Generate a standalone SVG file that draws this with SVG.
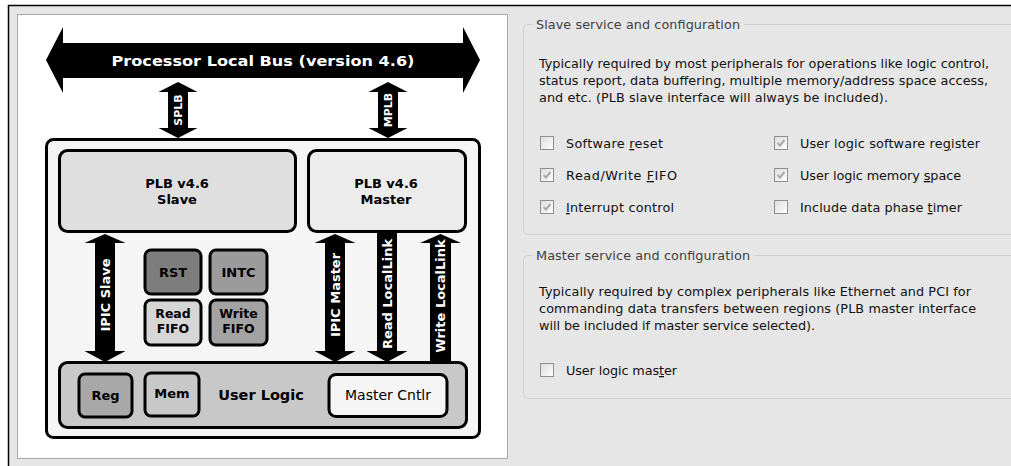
<svg xmlns="http://www.w3.org/2000/svg" width="1011" height="466" viewBox="0 0 1011 466">
<style>
.dt{font-family:"DejaVu Sans",Verdana,sans-serif;fill:#000;text-anchor:middle}
.b{font-weight:bold}
.wt{font-family:"DejaVu Sans",Verdana,sans-serif;font-weight:bold;fill:#fff;text-anchor:middle;dominant-baseline:central}
.bx{stroke:#000;stroke-width:3}
.ui{font-family:"DejaVu Sans",Tahoma,sans-serif;font-size:12.8px;fill:#111}
.ttl{font-family:"DejaVu Sans",Tahoma,sans-serif;font-size:12.8px;fill:#404040}
.grp{fill:none;stroke:#cfcfcf;stroke-width:1}
.cb{fill:url(#cbg);stroke:#8f8f8f;stroke-width:1}
.ck{fill:none;stroke:#a8a8a8;stroke-width:2}
.u{text-decoration:underline}
</style>
<defs>
<linearGradient id="cbg" x1="0" y1="0" x2="1" y2="1">
<stop offset="0" stop-color="#dcdcdc"/>
<stop offset="1" stop-color="#ffffff"/>
</linearGradient>
</defs>
<rect x="0" y="0" width="1011" height="466" fill="#fff"/>
<rect x="8" y="5" width="1010" height="470" fill="#e6e6e6"/>
<path d="M8.5,466 V5.5 H1011" fill="none" stroke="#000" stroke-width="1.5"/>
<rect id="panel" x="17.5" y="14.5" width="490" height="444" fill="#fff" stroke="#a8a8a8" stroke-width="1"/>

<g id="bus">
<path d="M46,60 L63,27 L63,43 L463,43 L463,27 L480,60 L463,93 L463,78 L63,78 L63,93 Z" fill="#000"/>
<text class="dt b" x="263" y="66" font-size="14.5" fill="#fff" style="fill:#fff" textLength="303" lengthAdjust="spacingAndGlyphs">Processor Local Bus (version 4.6)</text>
</g>

<g id="container">
<rect class="bx" x="46.5" y="139.5" width="433" height="298" rx="7" fill="#f5f5f5"/>
</g>

<g id="slave">
<rect class="bx" x="59.5" y="150.5" width="236" height="81" rx="8" fill="#dfdfdf"/>
<text class="dt b" x="177" y="188" font-size="13">PLB v4.6</text>
<text class="dt b" x="177" y="204" font-size="13">Slave</text>
</g>
<g id="master">
<rect class="bx" x="308.5" y="150.5" width="157" height="81" rx="8" fill="#ececec"/>
<text class="dt b" x="386" y="188" font-size="13">PLB v4.6</text>
<text class="dt b" x="386" y="204" font-size="13">Master</text>
</g>

<g id="rst">
<rect class="bx" x="145" y="250" width="56" height="44" rx="6" fill="#7d7d7d"/>
<text class="dt b" x="173" y="277" font-size="13">RST</text>
</g>
<g id="intc">
<rect class="bx" x="210" y="250" width="57" height="44" rx="6" fill="#9b9b9b"/>
<text class="dt b" x="238.5" y="277" font-size="13">INTC</text>
</g>
<g id="readfifo">
<rect class="bx" x="145" y="300" width="56" height="45" rx="6" fill="#d6d6d6"/>
<text class="dt b" x="173" y="318" font-size="12.5">Read</text>
<text class="dt b" x="173" y="333" font-size="12.5">FIFO</text>
</g>
<g id="writefifo">
<rect class="bx" x="210" y="300" width="57" height="45" rx="6" fill="#a3a3a3"/>
<text class="dt b" x="238.5" y="318" font-size="12.5">Write</text>
<text class="dt b" x="238.5" y="333" font-size="12.5">FIFO</text>
</g>

<g id="userlogic">
<rect class="bx" x="59.5" y="362.5" width="407" height="65" rx="8" fill="#c8c8c8"/>
<text class="dt b" x="261" y="400" font-size="14.5">User Logic</text>
</g>
<g id="reg">
<rect class="bx" x="79" y="374" width="53" height="43" rx="6" fill="#a8a8a8"/>
<text class="dt b" x="105.5" y="400" font-size="13">Reg</text>
</g>
<g id="mem">
<rect class="bx" x="145" y="373" width="54" height="43" rx="6" fill="#c8c8c8"/>
<text class="dt b" x="172" y="398" font-size="13">Mem</text>
</g>
<g id="mastercntlr">
<rect class="bx" x="329" y="374.5" width="118" height="42" rx="7" fill="#f5f5f5"/>
<text class="dt" x="388" y="400" font-size="14">Master Cntlr</text>
</g>

<g id="connectors" fill="#000">
<g id="splb">
<path d="M178,82 L197.5,92 L188,92 L188,128 L197.5,128 L178,138 L158.5,128 L168,128 L168,92 L158.5,92 Z"/>
<text class="wt" font-size="11" transform="translate(178,110) rotate(-90)">SPLB</text>
</g>
<g id="mplb">
<path d="M388,82 L407.5,92 L398,92 L398,128 L407.5,128 L388,138 L368.5,128 L378,128 L378,92 L368.5,92 Z"/>
<text class="wt" font-size="11" transform="translate(388,110) rotate(-90)">MPLB</text>
</g>
<g id="ipicslave">
<path d="M105,234 L125.5,243 L115,243 L115,351 L125.5,351 L105,362 L84.5,351 L95,351 L95,243 L84.5,243 Z"/>
<text class="wt" font-size="13" transform="translate(105,295) rotate(-90)">IPIC Slave</text>
</g>
<g id="ipicmaster">
<path d="M335,234 L355.5,243 L345,243 L345,351 L355.5,351 L335,362 L314.5,351 L325,351 L325,243 L314.5,243 Z"/>
<text class="wt" font-size="13" transform="translate(335,295) rotate(-90)">IPIC Master</text>
</g>
<g id="readll">
<path d="M377,232 L397,232 L397,351 L407.5,351 L387,362 L366.5,351 L377,351 Z"/>
<text class="wt" font-size="13" transform="translate(387,294) rotate(-90)">Read LocalLink</text>
</g>
<g id="writell">
<path d="M440.5,234 L461,243 L451,243 L451,362 L430,362 L430,243 L420,243 Z"/>
<text class="wt" font-size="13" transform="translate(440.5,296) rotate(-90)">Write LocalLink</text>
</g>
</g>

<g id="slavegroup">
<rect class="grp" x="523.5" y="24.5" width="500" height="210" rx="4"/>
<rect x="533" y="18" width="211" height="12" fill="#e6e6e6"/>
<text class="ttl" x="536" y="29" textLength="204" lengthAdjust="spacing">Slave service and configuration</text>
<text class="ui" x="539" y="68" textLength="450" lengthAdjust="spacing">Typically required by most peripherals for operations like logic control,</text>
<text class="ui" x="539" y="85" textLength="449" lengthAdjust="spacing">status report, data buffering, multiple memory/address space access,</text>
<text class="ui" x="539" y="102" textLength="349" lengthAdjust="spacing">and etc. (PLB slave interface will always be included).</text>
</g>
<g id="cb-swreset">
<rect class="cb" x="540.5" y="136.5" width="13" height="13"/>
<text class="ui" x="566" y="148" textLength="97" lengthAdjust="spacing">Software <tspan class="u">r</tspan>eset</text>
</g>
<g id="cb-fifo">
<rect class="cb" x="540.5" y="168.5" width="13" height="13"/>
<path class="ck" d="M543.5,175 L546,177.5 L550.5,172"/>
<text class="ui" x="566" y="180" textLength="111" lengthAdjust="spacing">Read/Write <tspan class="u">F</tspan>IFO</text>
</g>
<g id="cb-intr">
<rect class="cb" x="540.5" y="200.5" width="13" height="13"/>
<path class="ck" d="M543.5,207 L546,209.5 L550.5,204"/>
<text class="ui" x="566" y="212" textLength="108" lengthAdjust="spacing"><tspan class="u">I</tspan>nterrupt control</text>
</g>
<g id="cb-swreg">
<rect class="cb" x="774.5" y="136.5" width="13" height="13"/>
<path class="ck" d="M777.5,143 L780,145.5 L784.5,140"/>
<text class="ui" x="800" y="148" textLength="180" lengthAdjust="spacing">User logic software re<tspan class="u">g</tspan>ister</text>
</g>
<g id="cb-mem">
<rect class="cb" x="774.5" y="168.5" width="13" height="13"/>
<path class="ck" d="M777.5,175 L780,177.5 L784.5,172"/>
<text class="ui" x="800" y="180" textLength="161" lengthAdjust="spacing">User logic memory <tspan class="u">s</tspan>pace</text>
</g>
<g id="cb-timer">
<rect class="cb" x="774.5" y="200.5" width="13" height="13"/>
<text class="ui" x="800" y="212" textLength="162" lengthAdjust="spacing">Include data phase <tspan class="u">t</tspan>imer</text>
</g>

<g id="mastergroup">
<rect class="grp" x="523.5" y="255.5" width="500" height="143" rx="4"/>
<rect x="533" y="249" width="221" height="12" fill="#e6e6e6"/>
<text class="ttl" x="536" y="260" textLength="214" lengthAdjust="spacing">Master service and configuration</text>
<text class="ui" x="539" y="296" textLength="432" lengthAdjust="spacing">Typically required by complex peripherals like Ethernet and PCI for</text>
<text class="ui" x="539" y="313" textLength="437" lengthAdjust="spacing">commanding data transfers between regions (PLB master interface</text>
<text class="ui" x="539" y="330" textLength="276" lengthAdjust="spacing">will be included if master service selected).</text>
</g>
<g id="cb-ulmaster">
<rect class="cb" x="540.5" y="363.5" width="13" height="13"/>
<text class="ui" x="566" y="375" textLength="111" lengthAdjust="spacing">User logic mas<tspan class="u">t</tspan>er</text>
</g>
</svg>
